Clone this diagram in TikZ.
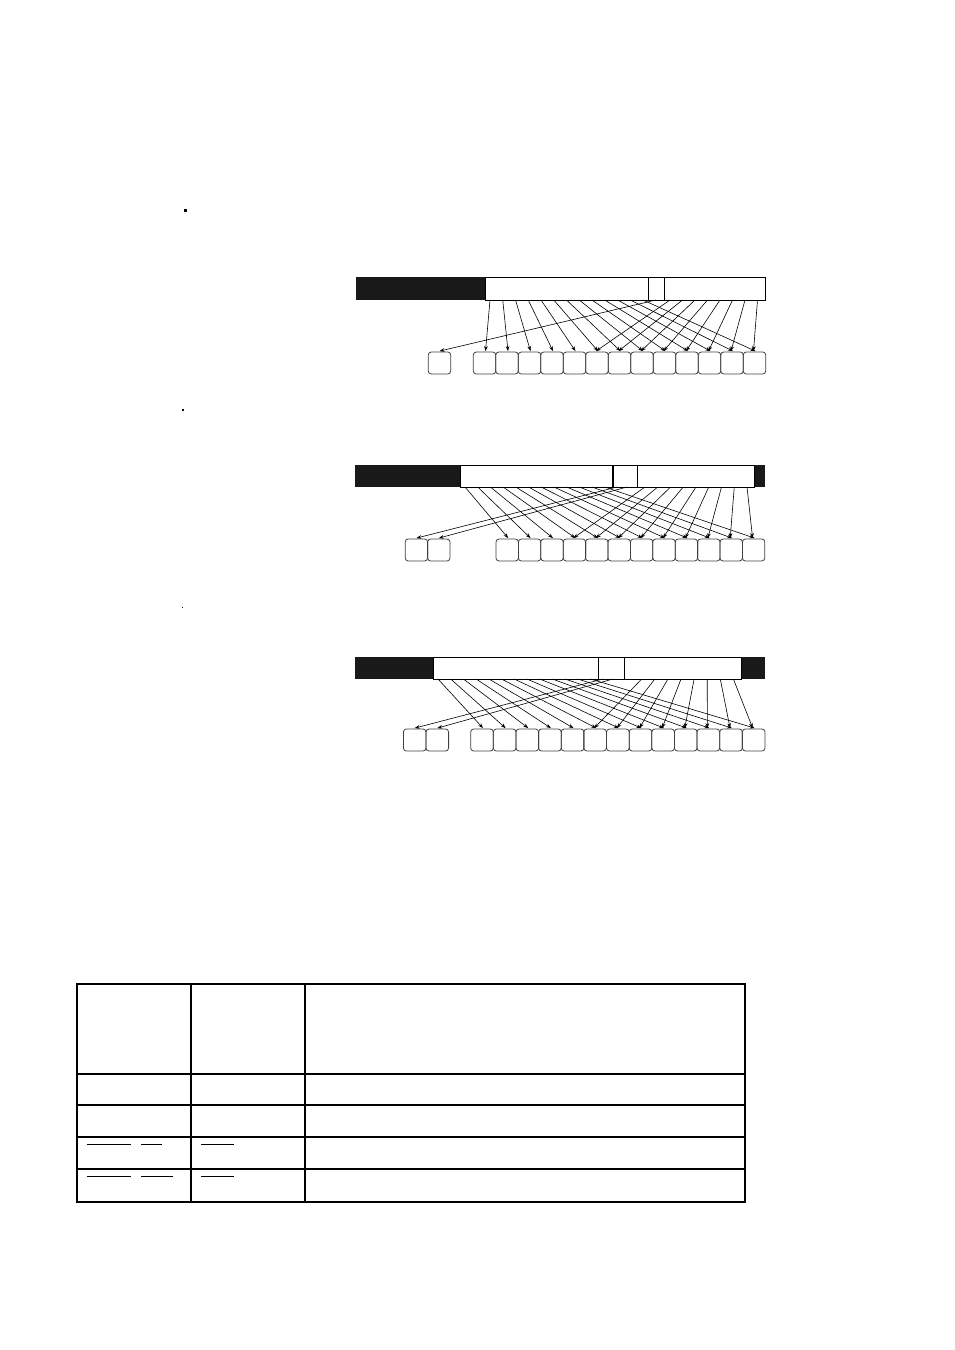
\documentclass[tikz,border=0pt]{standalone}
\usetikzlibrary{arrows.meta}
\begin{document}
\begin{tikzpicture}[x=1pt,y=-1pt,
  bit/.style={draw=black!75, line width=0.8pt, rounded corners=3pt, inner sep=0pt, minimum height=22pt},
  conn/.style={line width=0.6pt, -{Stealth[length=5pt,width=3.6pt]}},
  opc/.style={fill=black!90},
  fieldline/.style={line width=1pt},
  thinrule/.style={line width=1.3pt},
  thickrule/.style={line width=2.6pt, line cap=rect},
  uline/.style={line width=1pt},
  dotmark/.style={fill=black}
]
\useasboundingbox (0,0) rectangle (954,1350);

% ---------- marks at left ----------
\fill[dotmark] (183.5,209) rectangle (186.5,212);
\fill[dotmark] (182.2,409) rectangle (184.2,411);
\fill[dotmark] (181.5,606.5) rectangle (183,608);

% ================= Diagram 1 =================
\fill[opc] (356,277) rectangle (485,300);
\draw[fieldline] (485,277) rectangle (765,300);
\draw[fieldline] (648,277) -- (648,300) (664,277) -- (664,300);
\node[bit, minimum width=22.5pt] (a-l0) at (439.5,363) {};
\foreach \k in {0,...,12} {
  \node[bit, minimum width=22.5pt] (a-\k) at ({484.5+22.5*\k},363) {};
}
\foreach \k in {0,...,12} {
  \coordinate (as-\k) at ({490+12.75*\k},300);
  \draw[conn] (as-\k) -- ([xshift=1pt,yshift=0.5pt]a-\k.north);
}
\foreach \j in {0,...,7} {
  \pgfmathtruncatemacro{\t}{5+\j}
  \coordinate (ar-\j) at ({670+12.5*\j},300);
  \draw[conn] (ar-\j) -- ([xshift=-1pt,yshift=0.5pt]a-\t.north);
}
\coordinate (ac-0) at (656,300);
\draw[conn] (ac-0) -- ([yshift=0.5pt]a-l0.north);

% ================= Diagram 2 =================
\fill[opc] (355,465) rectangle (460,487);
\fill[opc] (754,465) rectangle (765,487);
\draw[fieldline] (460,465) rectangle (754,487);
\draw[fieldline] (612,465) -- (612,487) (637,465) -- (637,487);
\draw[line width=0.5pt] (613.2,465) -- (613.2,487);
\node[bit, minimum width=22.4pt] (b-l0) at (416.4,550) {};
\node[bit, minimum width=22.4pt] (b-l1) at (438.8,550) {};
\foreach \k in {0,...,11} {
  \node[bit, minimum width=22.4pt] (b-\k) at ({507.2+22.4*\k},550) {};
}
\foreach \k in {0,...,11} {
  \coordinate (bs-\k) at ({465+12.7*\k},487);
  \draw[conn] (bs-\k) -- ([xshift=1pt,yshift=0.5pt]b-\k.north);
}
\foreach \j in {0,...,8} {
  \pgfmathtruncatemacro{\t}{3+\j}
  \coordinate (br-\j) at ({645+12.75*\j},487);
  \draw[conn] (br-\j) -- ([xshift=-1pt,yshift=0.5pt]b-\t.north);
}
\coordinate (bc-0) at (617,487);
\coordinate (bc-1) at (627,487);
\draw[conn] (bc-0) -- ([yshift=0.5pt]b-l0.north);
\draw[conn] (bc-1) -- ([yshift=0.5pt]b-l1.north);

% ================= Diagram 3 =================
\fill[opc] (355,657) rectangle (433,679);
\fill[opc] (741,657) rectangle (765,679);
\draw[fieldline] (433,657) rectangle (741,679);
\draw[fieldline] (598,657) -- (598,679) (624,657) -- (624,679);
\node[bit, minimum width=22.6pt] (c-l0) at (414.7,740) {};
\node[bit, minimum width=22.6pt] (c-l1) at (437.3,740) {};
\foreach \k in {0,...,12} {
  \node[bit, minimum width=22.64pt] (c-\k) at ({482+22.64*\k},740) {};
}
\foreach \k in {0,...,12} {
  \coordinate (cs-\k) at ({438+12.7*\k},679);
  \draw[conn] (cs-\k) -- ([xshift=1pt,yshift=0.5pt]c-\k.north);
}
\foreach \j in {0,...,7} {
  \pgfmathtruncatemacro{\t}{5+\j}
  \coordinate (cr-\j) at ({641.7+13.1*\j},679);
  \draw[conn] (cr-\j) -- ([xshift=-1pt,yshift=0.5pt]c-\t.north);
}
\coordinate (cc-0) at (603,679);
\coordinate (cc-1) at (613,679);
\draw[conn] (cc-0) -- ([yshift=0.5pt]c-l0.north);
\draw[conn] (cc-1) -- ([yshift=0.5pt]c-l1.north);

% ================= Table =================
\draw[thinrule] (77,1105) -- (745,1105);
\draw[thinrule] (77,1137) -- (745,1137);
\draw[thinrule] (77,1169) -- (745,1169);
\draw[thinrule] (191,984) -- (191,1202);
\draw[thinrule] (305,984) -- (305,1202);
\draw[line width=1.8pt] (77,984) -- (77,1202);
\draw[line width=1.8pt] (745,984) -- (745,1202);
\draw[thickrule] (77,984) -- (745,984);
\draw[thickrule] (77,1074) -- (745,1074);
\draw[thickrule] (77,1202) -- (745,1202);
% underlines
\draw[uline] (87,1144) -- (131,1144);
\draw[uline] (141,1144) -- (162,1144);
\draw[uline] (201,1144) -- (234,1144);
\draw[uline] (87,1176) -- (131,1176);
\draw[uline] (141,1176) -- (173,1176);
\draw[uline] (201,1176) -- (234,1176);
\end{tikzpicture}
\end{document}
